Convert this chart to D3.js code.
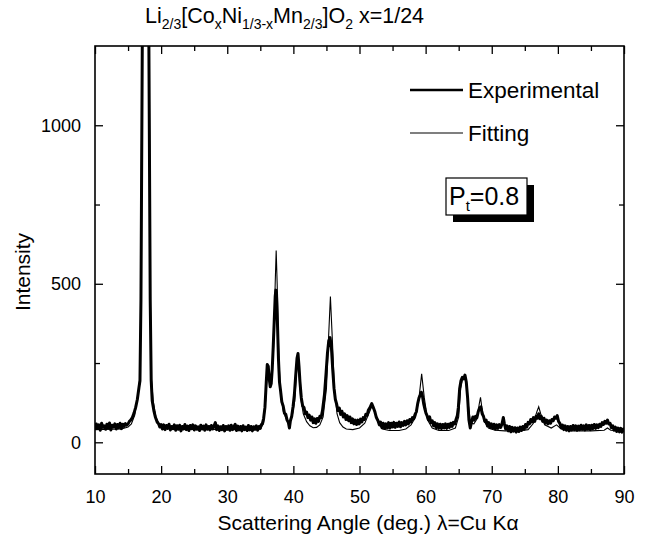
<!DOCTYPE html>
<html>
<head>
<meta charset="utf-8">
<script src="https://cdn.jsdelivr.net/npm/d3@7/dist/d3.min.js"></script>
<style>
  html, body { margin: 0; padding: 0; background: #fff; }
  svg text { font-family: "Liberation Sans", Arial, Helvetica, sans-serif; fill: #000; }
  .axis path, .axis line { stroke: #000; }
</style>
</head>
<body>
<div id="chart"></div>
<script>
// X-ray diffraction pattern: [angle (deg), intensity]
var experimental = [
  [10.0,40],[10.2,58],[10.4,44],[10.6,55],[10.8,38],[11.0,60],[11.2,47],[11.4,52],[11.6,41],[11.8,57],
  [12.0,45],[12.2,61],[12.4,39],[12.6,54],[12.8,48],[13.0,58],[13.2,42],[13.4,56],[13.6,46],[13.8,60],
  [14.0,43],[14.2,57],[14.4,50],[14.6,59],[14.8,54],[15.0,58],[15.2,66],[15.4,70],[15.65,78],[15.9,92],
  [16.15,110],[16.4,135],[16.65,173],[16.8,194],[16.95,450],[17.15,1250],[17.4,2000],[17.65,2500],[17.9,2000],[18.15,1250],
  [18.35,450],[18.5,194],[18.65,131],[18.9,100],[19.15,78],[19.4,64],[19.65,57],[19.8,48],
  [20.0,56],[20.2,42],[20.4,55],[20.6,40],[20.8,53],[21.0,44],[21.2,57],[21.4,39],[21.6,50],[21.8,43],
  [22.0,55],[22.2,38],[22.4,52],[22.6,41],[22.8,54],[23.0,36],[23.2,50],[23.4,42],[23.6,56],[23.8,40],
  [24.0,51],[24.2,37],[24.4,53],[24.6,43],[24.8,55],[25.0,39],[25.2,52],[25.4,41],[25.6,49],[25.8,37],
  [26.0,54],[26.2,42],[26.4,51],[26.6,38],[26.8,55],[27.0,41],[27.2,50],[27.4,39],[27.6,53],[27.8,42],
  [28.0,51],[28.2,62],[28.4,40],[28.6,52],[28.8,37],[29.0,49],[29.2,40],[29.4,53],[29.6,36],[29.8,50],
  [30.0,41],[30.2,52],[30.4,38],[30.6,54],[30.8,40],[31.0,49],[31.2,57],[31.4,37],[31.6,51],[31.8,39],
  [32.0,50],[32.2,36],[32.4,52],[32.6,40],[32.8,48],[33.0,37],[33.2,53],[33.4,39],[33.6,50],[33.8,36],
  [34.0,49],[34.2,41],[34.4,52],[34.6,38],[34.8,50],[35.0,44],[35.15,56],[35.3,58],[35.5,75],[35.7,110],
  [35.9,190],[36.05,245],[36.2,240],[36.35,200],[36.5,175],[36.65,185],[36.8,230],[36.95,300],[37.1,380],[37.25,460],
  [37.35,480],[37.45,470],[37.6,370],[37.75,260],[37.9,190],[38.05,165],[38.25,128],[38.45,115],[38.65,92],[38.85,88],
  [39.05,70],[39.25,62],[39.4,45],[39.55,68],[39.75,82],[39.95,112],[40.15,150],[40.35,210],[40.55,265],[40.7,280],
  [40.85,240],[41.0,190],[41.2,140],[41.4,115],[41.6,110],[41.8,90],[42.0,95],[42.2,78],[42.4,86],[42.6,70],
  [42.8,80],[43.0,62],[43.2,74],[43.4,60],[43.6,75],[43.8,66],[44.0,82],[44.2,78],[44.4,100],[44.7,150],
  [44.95,220],[45.15,280],[45.35,320],[45.55,330],[45.75,300],[45.95,230],[46.15,170],[46.35,135],[46.55,120],[46.75,100],
  [46.95,108],[47.15,88],[47.35,98],[47.55,80],[47.75,90],[47.95,72],[48.15,84],[48.35,68],[48.55,80],[48.75,62],
  [48.95,74],[49.15,58],[49.35,70],[49.55,56],[49.75,70],[49.95,58],[50.15,73],[50.35,64],[50.55,78],[50.75,72],
  [50.95,88],[51.15,85],[51.35,102],[51.6,110],[51.85,122],[52.05,112],[52.3,98],[52.55,78],[52.8,68],[53.0,55],
  [53.2,64],[53.4,46],[53.6,60],[53.8,44],[54.0,58],[54.2,46],[54.4,62],[54.6,45],[54.8,60],[55.0,48],
  [55.2,63],[55.4,47],[55.6,60],[55.8,50],[56.0,64],[56.2,49],[56.4,62],[56.6,53],[56.8,66],[57.0,55],
  [57.2,68],[57.4,58],[57.6,72],[57.8,64],[58.0,78],[58.2,74],[58.4,88],[58.6,96],[58.8,122],[59.0,140],
  [59.2,150],[59.35,158],[59.5,148],[59.7,122],[59.9,104],[60.05,92],[60.2,85],[60.4,72],[60.6,80],[60.8,62],
  [61.0,68],[61.2,52],[61.4,62],[61.6,46],[61.8,58],[62.0,44],[62.2,57],[62.4,43],[62.6,56],[62.8,45],
  [63.0,58],[63.2,44],[63.4,57],[63.6,47],[63.8,60],[64.0,50],[64.2,63],[64.4,58],[64.6,72],[64.8,85],
  [64.95,110],[65.15,170],[65.35,195],[65.55,205],[65.75,200],[65.95,212],[66.15,190],[66.35,140],[66.55,70],[66.75,45],
  [66.95,65],[67.15,80],[67.35,70],[67.55,82],[67.75,78],[67.95,96],[68.15,108],[68.35,112],[68.55,90],[68.75,82],
  [68.95,66],[69.15,70],[69.35,52],[69.55,62],[69.75,46],[69.95,58],[70.15,44],[70.35,57],[70.55,42],[70.75,55],
  [70.95,44],[71.15,56],[71.35,47],[71.55,58],[71.75,78],[71.9,60],[72.1,42],[72.3,52],[72.5,36],[72.7,50],
  [72.9,33],[73.1,47],[73.3,35],[73.5,46],[73.7,32],[73.9,45],[74.1,34],[74.3,48],[74.5,37],[74.7,50],
  [74.9,41],[75.1,56],[75.3,48],[75.5,63],[75.7,58],[75.9,72],[76.1,64],[76.3,78],[76.5,66],[76.7,82],
  [76.9,76],[77.1,90],[77.3,74],[77.5,82],[77.7,66],[77.9,76],[78.1,60],[78.3,70],[78.5,58],[78.7,68],
  [78.9,60],[79.1,72],[79.3,68],[79.5,80],[79.7,76],[79.9,84],[80.1,66],[80.3,60],[80.5,46],[80.7,54],
  [80.9,40],[81.1,52],[81.3,38],[81.5,50],[81.7,36],[81.9,50],[82.1,39],[82.3,53],[82.5,40],[82.7,52],
  [82.9,38],[83.1,51],[83.3,40],[83.5,54],[83.7,41],[83.9,52],[84.1,39],[84.3,55],[84.5,42],[84.7,53],
  [84.9,40],[85.1,54],[85.3,43],[85.5,56],[85.7,44],[85.9,55],[86.1,46],[86.3,57],[86.5,50],[86.7,62],
  [86.9,56],[87.1,66],[87.3,60],[87.5,70],[87.7,58],[87.9,60],[88.1,46],[88.3,52],[88.5,38],[88.7,48],
  [88.9,34],[89.1,45],[89.3,33],[89.5,44],[89.7,32],[89.9,42],[90.0,38]
];

var fitting = [
  [10,40],[14,42],[15,48],[15.5,58],[16,85],[16.5,150],[16.8,210],[16.95,500],[17.1,1250],[17.3,2000],
  [17.65,2600],[18.0,2000],[18.2,1250],[18.35,500],[18.5,210],[18.8,130],[19.2,80],[19.7,58],[20.5,48],[22,44],
  [25,42],[30,40],[34,40],[35,42],[35.5,60],[35.8,130],[36.1,245],[36.4,200],[36.7,200],[37.0,300],
  [37.25,500],[37.4,605],[37.55,500],[37.8,260],[38.1,150],[38.5,95],[39.0,70],[39.4,62],[39.8,80],[40.2,130],
  [40.5,230],[40.65,275],[40.8,230],[41.1,140],[41.5,90],[42.0,65],[42.5,52],[43.0,46],[43.5,47],[44.0,55],
  [44.5,80],[45.0,170],[45.3,320],[45.6,460],[45.9,320],[46.2,170],[46.6,90],[47.0,62],[47.5,48],[48.0,42],
  [49.0,40],[50.0,45],[50.8,60],[51.4,90],[51.9,115],[52.4,90],[53.0,55],[53.5,42],[54.5,37],[56,37],
  [57,42],[57.8,55],[58.5,80],[59.0,140],[59.4,216],[59.8,140],[60.3,70],[61,45],[62,37],[63.5,37],
  [64.5,45],[65.0,80],[65.3,170],[65.6,200],[65.9,205],[66.2,185],[66.5,110],[66.8,60],[67.3,58],[67.8,75],
  [68.1,120],[68.3,142],[68.5,110],[68.9,65],[69.5,45],[70.5,38],[72,36],[74,36],[75.5,40],[76.3,60],
  [76.8,95],[77.1,112],[77.4,90],[78.0,55],[79,45],[79.8,55],[80.5,42],[82,36],[85,36],[87,38],
  [87.5,45],[88,38],[90,35]
];

var xTicks = [10, 20, 30, 40, 50, 60, 70, 80, 90];
var xMinorTicks = [15, 25, 35, 45, 55, 65, 75, 85];
var yTicks = [0, 500, 1000];
var yMinorTicks = [250, 750];

var width = 647, height = 539;
var margin = { top: 46, right: 23, bottom: 65, left: 95 };
var w = width - margin.left - margin.right;
var h = height - margin.top - margin.bottom;

var svg = d3.select("#chart").append("svg")
  .attr("width", width)
  .attr("height", height);

var x = d3.scaleLinear().domain([10, 90]).range([0, w]);
var y = d3.scaleLinear().domain([-100, 1250]).range([h, 0]);

var g = svg.append("g")
  .attr("transform", "translate(" + margin.left + "," + margin.top + ")");

g.append("clipPath").attr("id", "plot-clip")
  .append("rect").attr("width", w).attr("height", h);

// Data lines
var line = d3.line().x(d => x(d[0])).y(d => y(d[1]));

g.append("path")
  .datum(experimental)
  .attr("clip-path", "url(#plot-clip)")
  .attr("fill", "none")
  .attr("stroke", "#000")
  .attr("stroke-width", 3)
  .attr("stroke-linejoin", "round")
  .attr("d", line);

g.append("path")
  .datum(fitting)
  .attr("clip-path", "url(#plot-clip)")
  .attr("fill", "none")
  .attr("stroke", "#000")
  .attr("stroke-width", 1.1)
  .attr("d", line);

// Axes, ticks pointing inward on all four sides
function styleAxis(sel) {
  sel.select(".domain").remove();
  sel.selectAll("line").attr("stroke-width", 1.3);
  sel.selectAll("text").attr("font-size", 18);
}

g.append("g").attr("class", "axis")
  .attr("transform", "translate(0," + h + ")")
  .call(d3.axisBottom(x).tickValues(xTicks).tickSize(-8).tickPadding(16).tickFormat(d3.format("d")))
  .call(styleAxis);
g.append("g").attr("class", "axis")
  .attr("transform", "translate(0," + h + ")")
  .call(d3.axisBottom(x).tickValues(xMinorTicks).tickSize(-5).tickFormat(""))
  .call(styleAxis);
g.append("g").attr("class", "axis")
  .call(d3.axisTop(x).tickValues(xTicks).tickSize(-8).tickFormat(""))
  .call(styleAxis);
g.append("g").attr("class", "axis")
  .call(d3.axisTop(x).tickValues(xMinorTicks).tickSize(-5).tickFormat(""))
  .call(styleAxis);

g.append("g").attr("class", "axis")
  .call(d3.axisLeft(y).tickValues(yTicks).tickSize(-8).tickPadding(14).tickFormat(d3.format("d")))
  .call(styleAxis);
g.append("g").attr("class", "axis")
  .call(d3.axisLeft(y).tickValues(yMinorTicks).tickSize(-5).tickFormat(""))
  .call(styleAxis);
g.append("g").attr("class", "axis")
  .attr("transform", "translate(" + w + ",0)")
  .call(d3.axisRight(y).tickValues(yTicks).tickSize(-8).tickFormat(""))
  .call(styleAxis);
g.append("g").attr("class", "axis")
  .attr("transform", "translate(" + w + ",0)")
  .call(d3.axisRight(y).tickValues(yMinorTicks).tickSize(-5).tickFormat(""))
  .call(styleAxis);

// Frame
g.append("rect")
  .attr("width", w).attr("height", h)
  .attr("fill", "none")
  .attr("stroke", "#000")
  .attr("stroke-width", 1.6);

// Axis titles
svg.append("text")
  .attr("x", 368)
  .attr("y", 530)
  .attr("text-anchor", "middle")
  .attr("font-size", 21)
  .text("Scattering Angle (deg.) \u03bb=Cu K\u03b1");

svg.append("text")
  .attr("transform", "translate(30,272) rotate(-90)")
  .attr("text-anchor", "middle")
  .attr("font-size", 21)
  .text("Intensity");

// Title with subscripts
var title = svg.append("text")
  .attr("x", 145)
  .attr("y", 23)
  .attr("font-size", 21.5);
var parts = [
  ["Li", false], ["2/3", true], ["[Co", false], ["x", true], ["Ni", false], ["1/3-x", true],
  ["Mn", false], ["2/3", true], ["]O", false], ["2", true], [" x=1/24", false]
];
var shifted = false;
parts.forEach(function(p) {
  var dy = 0;
  if (p[1] && !shifted) { dy = 6; shifted = true; }
  if (!p[1] && shifted) { dy = -6; shifted = false; }
  title.append("tspan")
    .attr("font-size", p[1] ? 14 : 21.5)
    .attr("dy", dy)
    .text(p[0]);
});

// Legend
var legend = [
  { label: "Experimental", width: 2.4, y: 90 },
  { label: "Fitting", width: 1.1, y: 133 }
];
legend.forEach(function(d) {
  svg.append("line")
    .attr("x1", 410).attr("x2", 463)
    .attr("y1", d.y).attr("y2", d.y)
    .attr("stroke", "#000")
    .attr("stroke-width", d.width);
  svg.append("text")
    .attr("x", 468).attr("y", d.y + 8)
    .attr("font-size", 22.5)
    .text(d.label);
});

// P_t box with drop shadow
svg.append("rect")
  .attr("x", 453).attr("y", 185)
  .attr("width", 81).attr("height", 37)
  .attr("fill", "#000");
svg.append("rect")
  .attr("x", 446).attr("y", 178)
  .attr("width", 81).attr("height", 37)
  .attr("fill", "#fff")
  .attr("stroke", "#000")
  .attr("stroke-width", 1.2);
var pt = svg.append("text")
  .attr("x", 449).attr("y", 205)
  .attr("font-size", 25);
pt.append("tspan").text("P");
pt.append("tspan").attr("font-size", 15).attr("dy", 6).text("t");
pt.append("tspan").attr("dy", -6).text("=0.8");
</script>
</body>
</html>
